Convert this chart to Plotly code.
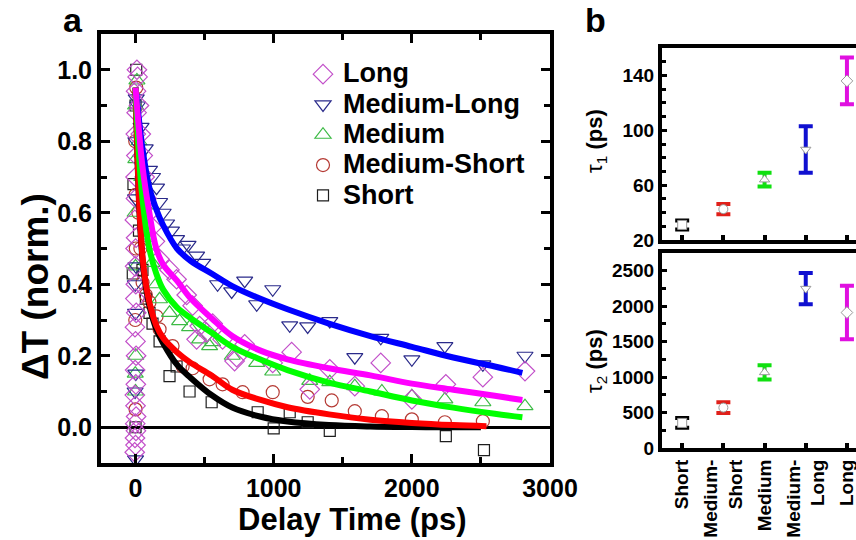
import plotly.graph_objects as go

# ---------------- Panel a: measured transients (delay in ps, normalized dT) ----------------
long_t = [-6, 0, -4, 3, -2, 4, 0, -5, 2, -3, 4, 0, -4, 5, -1, 2, -3, 0, 4, -5,
          3, 0, 6, 2, 8, 4, 10, 15, 25, 38, 52, 66, 82, 100, 120, 140, 174, 246, 297, 370,
          413, 442, 464, 514, 558, 630, 717, 732, 790, 993, 1130, 1261, 1406, 1587, 1775, 2000, 2246, 2514, 2819]
long_v = [-0.07, -0.05, -0.03, -0.01, 0.01, 0.03, 0.06, 0.09, 0.12, 0.16, 0.2, 0.24, 0.28, 0.32, 0.36, 0.4, 0.45, 0.5, 0.53, 0.58,
          0.64, 0.7, 0.76, 0.82, 0.88, 0.94, 1.0, 0.98, 0.9, 0.82, 0.76, 0.7, 0.64, 0.6, 0.56, 0.52, 0.47, 0.44, 0.414, 0.37,
          0.34, 0.246, 0.283, 0.265, 0.29, 0.246, 0.185, 0.196, 0.232, 0.18, 0.21, 0.106, 0.162, 0.115, 0.18, 0.078, 0.12, 0.14, 0.157]

medlong_t = [0, -3, 2, 0, -2, 3, 0, 2, 5, 15, 40, 70, 101, 123, 152, 174, 200, 225, 260, 297,
             340, 380, 442, 486, 594, 696, 790, 877, 993, 1116, 1246, 1406, 1587, 1775, 2000, 2239, 2514, 2819]
medlong_v = [-0.09, 0.1, 0.15, 0.32, 0.4, 0.45, 0.64, 0.8, 0.92, 0.9, 0.84, 0.78, 0.72, 0.7, 0.67, 0.63, 0.6, 0.57, 0.55, 0.526,
             0.5, 0.51, 0.48, 0.46, 0.40, 0.38, 0.41, 0.344, 0.386, 0.285, 0.282, 0.297, 0.196, 0.25, 0.19, 0.227, 0.176, 0.2]

medium_t = [0, -2, 2, 0, -3, 2, 0, 10, 25, 45, 65, 90, 120, 150, 174, 246, 319, 391, 464, 536,
            558, 700, 877, 993, 1261, 1406, 1587, 1783, 2000, 2239, 2514, 2819]
medium_v = [0.1, 0.15, 0.2, 0.45, 0.6, 0.75, 0.9, 0.97, 0.8, 0.7, 0.62, 0.53, 0.46, 0.4, 0.358, 0.32, 0.297, 0.28, 0.246, 0.227,
            0.238, 0.2, 0.18, 0.156, 0.13, 0.126, 0.115, 0.1, 0.087, 0.078, 0.07, 0.059]

medshort_t = [0, -2, 2, 0, -2, 5, 20, 35, 51, 75, 101, 152, 174, 268, 341, 413, 536, 630, 775, 993,
              1246, 1420, 1587, 1783, 2000, 2239, 2514]
medshort_v = [0.05, 0.3, 0.5, 0.65, 0.8, 0.95, 0.6, 0.5, 0.405, 0.37, 0.35, 0.31, 0.274, 0.227, 0.17, 0.165, 0.134, 0.12, 0.098, 0.098,
              0.085, 0.075, 0.045, 0.031, 0.022, 0.014, 0.017]

short_t = [0, -20, -15, 0, 5, 25, 50, 75, 101, 123, 174, 246, 297, 391, 551, 884, 1000, 1116, 1246, 1406, 2246, 2522]
short_v = [0.0, 0.43, 0.68, 0.9, 1.0, 0.55, 0.44, 0.36, 0.32, 0.29, 0.24, 0.143, 0.17, 0.1, 0.07, 0.042, -0.003, 0.042, 0.014, -0.01,
           -0.025, -0.064]

# fitted curves
fit_t = [0, 25, 50, 100, 150, 200, 300, 400, 550, 700, 900, 1100, 1400, 1700, 2000, 2300, 2600, 2800]
fit_medlong = [0.95, 0.86, 0.78, 0.67, 0.61, 0.565, 0.50, 0.465, 0.43, 0.395, 0.36, 0.33, 0.29, 0.255, 0.225, 0.195, 0.17, 0.152]
fit_long = [0.95, 0.83, 0.73, 0.6, 0.50, 0.455, 0.41, 0.36, 0.305, 0.255, 0.215, 0.19, 0.165, 0.145, 0.122, 0.105, 0.088, 0.076]
fit_medium = [0.95, 0.76, 0.64, 0.50, 0.43, 0.385, 0.335, 0.305, 0.265, 0.225, 0.19, 0.16, 0.125, 0.1, 0.075, 0.055, 0.038, 0.028]
fit_ms_t = [0, 15, 30, 50, 75, 100, 150, 200, 300, 400, 550, 700, 900, 1100, 1400, 1700, 2000, 2300, 2540]
fit_medshort = [0.95, 0.75, 0.6, 0.48, 0.4, 0.35, 0.285, 0.25, 0.21, 0.18, 0.145, 0.105, 0.077, 0.056, 0.036, 0.021, 0.012, 0.006, 0.003]
fit_s_t = [0, 15, 30, 50, 75, 100, 150, 200, 300, 400, 550, 700, 900, 1100, 1400, 1700, 2000, 2300, 2500]
fit_short = [0.95, 0.74, 0.59, 0.47, 0.39, 0.34, 0.275, 0.235, 0.175, 0.138, 0.09, 0.055, 0.03, 0.016, 0.006, 0.002, 0.0005, 0.0, 0.0]

# ---------------- Panel b: lifetimes ----------------
categories = ["Short", "Medium-<br>Short", "Medium", "Medium-<br>Long", "Long"]
tau1 = [31, 42.5, 64, 86, 136]
tau1_err = [3.3, 3.8, 5, 17, 17]
tau2 = [354, 570, 1066, 2248, 1910]
tau2_err = [70, 75, 100, 220, 377]

FONT = "Liberation Sans, Arial, sans-serif"
W, H = 856, 540

def px(x):
    return x / W

def py(y):
    return 1 - y / H

fig = go.Figure()

series = [
    ("Short", short_t, short_v, "square-open", "#1e1e1e", 11),
    ("Medium-Short", medshort_t, medshort_v, "circle-open", "#b53a34", 13),
    ("Medium", medium_t, medium_v, "triangle-up-open", "#3cba45", 14),
    ("Medium-Long", medlong_t, medlong_v, "triangle-down-open", "#2a2a8a", 14),
    ("Long", long_t, long_v, "diamond-open", "#c24fc9", 15),
]
for name, t, v, sym, col, sz in series:
    fig.add_trace(go.Scatter(x=t, y=v, mode="markers",
                             name='<span style="font-size:27px">' + name + '</span>',
                             marker=dict(symbol=sym, size=sz, color=col, line=dict(width=1.2, color=col)),
                             xaxis="x", yaxis="y"))

fits = [
    (fit_t, fit_medlong, "#0000ff"),
    (fit_s_t, fit_short, "#000000"),
    (fit_ms_t, fit_medshort, "#ff0000"),
    (fit_t, fit_medium, "#00ff00"),
    (fit_t, fit_long, "#ff00ff"),
]
for t, v, col in fits:
    fig.add_trace(go.Scatter(x=t, y=v, mode="lines", line=dict(color=col, width=6, shape="spline"),
                             showlegend=False, xaxis="x", yaxis="y"))

b_cols = ["#000000", "#e0201a", "#10e010", "#1010d0", "#e010e0"]
b_syms = ["square", "circle", "triangle-up", "triangle-down", "diamond"]
for i in range(5):
    fig.add_trace(go.Scatter(x=[categories[i]], y=[tau1[i]], mode="markers", showlegend=False,
                             error_y=dict(type="data", array=[tau1_err[i]], color=b_cols[i], thickness=4, width=7),
                             marker=dict(symbol=b_syms[i], size=9, color="white", line=dict(width=1, color="#999999")),
                             xaxis="x2", yaxis="y2"))
    fig.add_trace(go.Scatter(x=[categories[i]], y=[tau2[i]], mode="markers", showlegend=False,
                             error_y=dict(type="data", array=[tau2_err[i]], color=b_cols[i], thickness=4, width=7),
                             marker=dict(symbol=b_syms[i], size=9, color="white", line=dict(width=1, color="#999999")),
                             xaxis="x3", yaxis="y3"))

tickfont_a = dict(family=FONT, size=25, color="black", weight="bold")
tickfont_b = dict(family=FONT, size=19, color="black", weight="bold")

common = dict(automargin=False, showgrid=False, zeroline=False, showline=True, linewidth=4, linecolor="black",
              ticks="inside", tickcolor="black")

fig.update_layout(
    width=W, height=H,
    margin=dict(l=0, r=0, t=0, b=0, pad=0, autoexpand=False),
    paper_bgcolor="white", plot_bgcolor="white",
    font=dict(family=FONT, color="black"),
    showlegend=True,
    legend=dict(x=px(303), y=py(54), xanchor="left", yanchor="top", traceorder="reversed",
                font=dict(family=FONT, size=21, color="black", weight="bold"),
                bgcolor="rgba(0,0,0,0)", borderwidth=0, tracegroupgap=0, itemwidth=30),
    xaxis=dict(common, domain=[px(101), px(550)], range=[-250, 3000], tickvals=[0, 1000, 2000, 3000],
               mirror="ticks", ticklen=9, tickwidth=3,
               minor=dict(dtick=500, ticks="inside", ticklen=6, tickwidth=3, tickcolor="black"),
               tickfont=tickfont_a, anchor="y"),
    yaxis=dict(common, domain=[py(463), py(34)], range=[-0.1, 1.1], tickvals=[0, 0.2, 0.4, 0.6, 0.8, 1.0],
               tickformat=".1f", mirror="ticks", ticklen=9, tickwidth=3,
               minor=dict(dtick=0.1, ticks="inside", ticklen=6, tickwidth=3, tickcolor="black"),
               tickfont=tickfont_a, anchor="x"),
    xaxis2=dict(common, domain=[px(662), 1.0], range=[-0.49, 4.22], type="category", showticklabels=False,
                mirror=True, ticklen=5, tickwidth=4, anchor="y2"),
    yaxis2=dict(common, domain=[py(240), py(48)], range=[20, 160], tickvals=[20, 60, 100, 140],
                mirror=True, ticklen=5, tickwidth=3,
                minor=dict(dtick=10, ticks="inside", ticklen=4, tickwidth=3, tickcolor="black"),
                tickfont=tickfont_b, anchor="x2"),
    xaxis3=dict(common, domain=[px(662), 1.0], range=[-0.49, 4.22], type="category",
                mirror=True, ticklen=5, tickwidth=4, tickangle=-90,
                tickfont=tickfont_b, anchor="y3"),
    yaxis3=dict(common, domain=[py(448), py(253)], range=[0, 2750], tickvals=[0, 500, 1000, 1500, 2000, 2500],
                mirror=True, ticklen=5, tickwidth=3,
                minor=dict(dtick=250, ticks="inside", ticklen=4, tickwidth=3, tickcolor="black"),
                tickfont=tickfont_b, anchor="x3"),
)
# horizontal zero line of panel a
fig.update_yaxes(selector=dict(anchor="x"), zeroline=True, zerolinecolor="black", zerolinewidth=3)

ann = [
    dict(text="<b>a</b>", x=px(73), y=py(20), font=dict(size=34)),
    dict(text="<b>b</b>", x=px(595), y=py(20), font=dict(size=34)),
    dict(text="<b>Delay Time (ps)</b>", x=px(352), y=py(519), font=dict(size=31)),
    dict(text="<b>ΔT (norm.)</b>", x=px(35), y=py(287), font=dict(size=37), textangle=-90),
    dict(text="τ<sub>1</sub> <b>(ps)</b>", x=px(596), y=py(141), font=dict(size=22), textangle=-90),
    dict(text="τ<sub>2</sub> <b>(ps)</b>", x=px(596), y=py(361), font=dict(size=22), textangle=-90),
]
for a in ann:
    a.update(xref="paper", yref="paper", showarrow=False, xanchor="center", yanchor="middle")
    a["font"].update(family=FONT, color="black")
    fig.add_annotation(**a)

page_css = ("document.documentElement.style.overflow='hidden';"
            "document.body.style.margin='0px';"
            "document.body.style.overflow='hidden';")
fig.write_html("out.html", config={"displayModeBar": False}, post_script=page_css)
